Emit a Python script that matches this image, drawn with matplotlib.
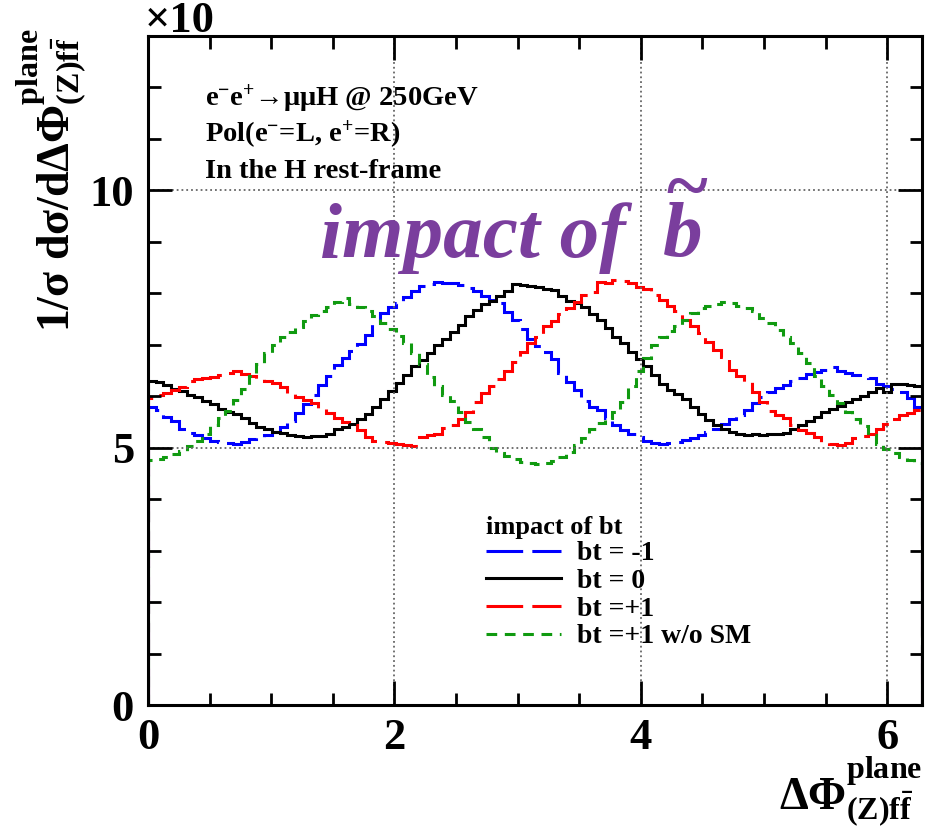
import numpy as np
import matplotlib
matplotlib.use('Agg')
import matplotlib.pyplot as plt
from matplotlib.lines import Line2D

plt.rcParams['font.family'] = 'Liberation Serif'
plt.rcParams['font.weight'] = 'bold'
plt.rcParams['mathtext.fontset'] = 'custom'
plt.rcParams['mathtext.rm'] = 'Liberation Serif:bold'
plt.rcParams['mathtext.it'] = 'Liberation Serif:italic:bold'
plt.rcParams['mathtext.bf'] = 'Liberation Serif:bold'

# 100 bins on [0, 2pi], values in units of 1e-3
bt_m1 = [5.80, 5.74, 5.60, 5.52, 5.36, 5.28, 5.24, 5.18, 5.14, 5.12,
         5.10, 5.08, 5.12, 5.16, 5.20, 5.24, 5.30, 5.40, 5.52, 5.68,
         5.84, 6.02, 6.22, 6.40, 6.60, 6.74, 6.88, 7.02, 7.20, 7.44,
         7.62, 7.74, 7.82, 7.92, 8.04, 8.14, 8.18, 8.22, 8.20, 8.20,
         8.16, 8.10, 8.04, 7.94, 7.88, 7.82, 7.64, 7.48, 7.30, 7.12,
         6.98, 6.86, 6.72, 6.46, 6.28, 6.12, 5.90, 5.80, 5.74, 5.58,
         5.44, 5.34, 5.26, 5.20, 5.14, 5.10, 5.08, 5.10, 5.12, 5.15,
         5.18, 5.24, 5.30, 5.36, 5.46, 5.56, 5.64, 5.74, 5.86, 5.98,
         6.08, 6.16, 6.22, 6.30, 6.36, 6.44, 6.48, 6.52, 6.56, 6.50,
         6.46, 6.42, 6.38, 6.36, 6.24, 6.20, 6.14, 6.08, 5.96, 5.80]

bt_0 = [6.30, 6.28, 6.22, 6.14, 6.10, 6.02, 5.98, 5.90, 5.84, 5.76,
        5.70, 5.66, 5.58, 5.48, 5.40, 5.36, 5.31, 5.29, 5.25, 5.22,
        5.20, 5.23, 5.22, 5.27, 5.36, 5.40, 5.46, 5.55, 5.66, 5.80,
        5.95, 6.10, 6.25, 6.42, 6.58, 6.70, 6.84, 7.00, 7.12, 7.25,
        7.38, 7.55, 7.68, 7.79, 7.86, 7.95, 8.05, 8.18, 8.16, 8.14,
        8.12, 8.08, 8.06, 7.95, 7.86, 7.82, 7.74, 7.60, 7.48, 7.32,
        7.16, 7.04, 6.86, 6.72, 6.58, 6.42, 6.24, 6.12, 6.04, 5.95,
        5.80, 5.66, 5.54, 5.44, 5.36, 5.30, 5.26, 5.24, 5.26, 5.24,
        5.27, 5.26, 5.28, 5.36, 5.44, 5.52, 5.60, 5.70, 5.76, 5.82,
        5.88, 5.94, 6.00, 6.08, 6.16, 6.08, 6.24, 6.24, 6.22, 6.20]

bt_p1 = [5.96, 6.02, 6.06, 6.12, 6.18, 6.30, 6.34, 6.36, 6.38, 6.42,
         6.46, 6.50, 6.44, 6.40, 6.34, 6.30, 6.26, 6.18, 6.04, 5.98,
         5.92, 5.86, 5.78, 5.68, 5.58, 5.50, 5.44, 5.34, 5.20, 5.14,
         5.12, 5.10, 5.08, 5.05, 5.04, 5.20, 5.24, 5.26, 5.38, 5.44,
         5.56, 5.70, 5.88, 6.06, 6.20, 6.34, 6.50, 6.66, 6.86, 7.04,
         7.16, 7.36, 7.46, 7.60, 7.72, 7.84, 7.96, 8.02, 8.22, 8.20,
         8.26, 8.24, 8.20, 8.12, 8.08, 7.96, 7.88, 7.76, 7.66, 7.48,
         7.36, 7.22, 7.06, 6.90, 6.76, 6.52, 6.40, 6.28, 6.08, 5.88,
         5.72, 5.64, 5.58, 5.44, 5.34, 5.28, 5.20, 5.12, 5.08, 5.05,
         5.10, 5.18, 5.22, 5.26, 5.36, 5.46, 5.56, 5.64, 5.68, 5.74]

bt_p1_nosm = [4.76, 4.78, 4.82, 4.88, 4.94, 5.04, 5.14, 5.26, 5.44, 5.58,
              5.72, 5.92, 6.14, 6.40, 6.62, 6.84, 7.00, 7.16, 7.24, 7.34,
              7.46, 7.58, 7.66, 7.74, 7.84, 7.90, 7.80, 7.74, 7.66, 7.56,
              7.42, 7.30, 7.18, 7.04, 6.84, 6.62, 6.38, 6.20, 6.02, 5.90,
              5.70, 5.50, 5.36, 5.20, 5.00, 4.90, 4.84, 4.78, 4.72, 4.70,
              4.68, 4.70, 4.74, 4.82, 4.92, 5.06, 5.18, 5.36, 5.48, 5.58,
              5.70, 5.88, 6.20, 6.50, 6.74, 7.00, 7.16, 7.26, 7.36, 7.48,
              7.62, 7.72, 7.76, 7.80, 7.84, 7.82, 7.76, 7.72, 7.66, 7.52,
              7.42, 7.28, 7.16, 7.04, 6.84, 6.64, 6.40, 6.20, 6.02, 5.86,
              5.70, 5.56, 5.42, 5.24, 5.08, 4.98, 4.90, 4.82, 4.76, 4.70]

labels = ['bt = -1', 'bt = 0', 'bt =+1', 'bt =+1 w/o SM']
colors = ['#0000ff', '#000000', '#ff0000', '#109a10']
styles = [(0, (12, 3)), '-', (0, (12, 3)), (0, (3.5, 2.5))]

edges = np.linspace(0, 2 * np.pi, 101)

fig = plt.figure(figsize=(9.25, 8.32), dpi=100)
ax = fig.add_axes([0.16, 0.1526, 0.8368, 0.8041])

series = [bt_m1, bt_0, bt_p1, bt_p1_nosm]
for vals, c, ls in zip(series, colors, styles):
    ax.stairs(vals, edges, baseline=0, fill=False, color=c, linewidth=2.2, linestyle=ls)

ax.set_xlim(0, 2 * np.pi)
ax.set_ylim(0, 13)
ax.set_xticks([0, 2, 4, 6])
ax.set_xticks(np.arange(0, 6.3, 0.5), minor=True)
ax.set_yticks([0, 5, 10])
ax.set_yticks(np.arange(0, 13.1, 1), minor=True)
ax.grid(True, which='major', linestyle=':', color='#666666', linewidth=1.3)
ax.tick_params(which='both', direction='in', top=True, right=True, width=2.0,
               labelsize=32)
ax.tick_params(which='major', length=17)
ax.tick_params(which='minor', length=9)
ax.tick_params(axis='x', pad=9)
ax.tick_params(axis='y', pad=10)
for s in ax.spines.values():
    s.set_linewidth(2.2)

# text annotations
fig.text(205 / 925, 1 - 98 / 832, r'e$^{-}$e$^{+}$→μμH @ 250GeV', fontsize=20.5, va='center')
fig.text(205 / 925, 1 - 134 / 832, r'Pol(e$^{-}$=L, e$^{+}$=R)', fontsize=20.5, va='center')
fig.text(205 / 925, 1 - 172 / 832, 'In the H rest-frame', fontsize=20.5, va='center')

purple = '#7a3e9d'
fig.text(320 / 925, 1 - 257 / 832, 'impact of', fontsize=57, style='italic',
         color=purple, va='baseline')
fig.text(662 / 925, 1 - 257 / 832, r'$\widetilde{b}$', fontsize=57,
         color=purple, va='baseline')

fig.text(145 / 925, 1 - 32 / 832, '×10', fontsize=32, va='baseline')
fig.text(228 / 925, 1 - 4 / 832, '−3', fontsize=22, va='bottom')

fig.text(52 / 925, 1 - 332 / 832,
         r'1/σ dσ/dΔΦ$^{\mathrm{plane}}_{\mathrm{(Z)f\bar{f}}}$',
         fontsize=33, rotation=90, ha='center', va='bottom')
fig.text(922 / 925, 1 - 810 / 832,
         r'ΔΦ$^{\mathrm{plane}}_{\mathrm{(Z)f\bar{f}}}$',
         fontsize=33, ha='right', va='baseline')

handles = [Line2D([], [], color=c, linestyle=ls, linewidth=2.2) for c, ls in zip(colors, styles)]
leg = ax.legend(handles, labels, title='impact of bt', loc='upper left',
                bbox_to_anchor=(0.437, 0.283), frameon=False, fontsize=20,
                title_fontsize=19, alignment='left', handlelength=2.7,
                handletextpad=0.55, labelspacing=0.08, borderpad=0, borderaxespad=0)
leg.get_title().set_fontweight('bold')

fig.savefig('out.png', dpi=100)
